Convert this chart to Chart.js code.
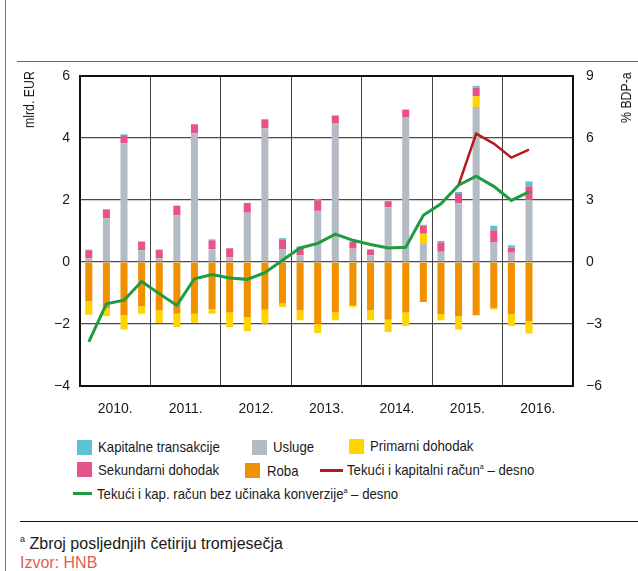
<!DOCTYPE html>
<html>
<head>
<meta charset="utf-8">
<script src="https://cdn.jsdelivr.net/npm/chart.js@4"></script>
<style>
  body { margin: 0; background: #fff; }
  #page { position: relative; width: 638px; height: 571px; overflow: hidden;
          font-family: 'Liberation Sans', Arial, sans-serif; color: #1a1a1a; }
  #wrap { position: absolute; left: 0; top: 0; width: 638px; height: 420px; }
  .rule { position: absolute; background: #333; }
  .ytitle { position: absolute; font-size: 14px; line-height: 14px; white-space: nowrap;
            transform-origin: 0 0; transform: rotate(-90deg) scaleX(0.88); }
  .sw { position: absolute; width: 15px; height: 15px; }
  .ln { position: absolute; height: 3px; }
  .tx { position: absolute; font-size: 15px; line-height: 18px; white-space: nowrap;
        transform-origin: 0 50%; transform: scaleX(0.88); }
  .fn { position: absolute; font-size: 16px; line-height: 18px; white-space: nowrap; }
  sup { font-size: 8px; line-height: 0; vertical-align: baseline; position: relative; top: -6px; }
  .fn sup { font-size: 9px; top: -7px; }
</style>
</head>
<body>
<div id="page">
  <div class="rule" style="left:5px;top:0;width:1px;height:571px;background:#777"></div>
  <div class="rule" style="left:17px;top:61px;width:621px;height:1px;background:#666"></div>
  <div class="rule" style="left:20px;top:521px;width:618px;height:1px;background:#111"></div>

  <div id="wrap"><canvas id="bopChart"></canvas></div>

  <div class="ytitle" style="left:22px;top:128px">mlrd. EUR</div>
  <div class="ytitle" style="left:619px;top:123px">% BDP-a</div>

  <!-- legenda -->
  <div class="sw" style="left:77px;top:440px;background:#5bc3d2"></div>
  <div class="tx" style="left:98px;top:438px">Kapitalne transakcije</div>
  <div class="sw" style="left:252px;top:440px;background:#b4bbc2"></div>
  <div class="tx" style="left:273px;top:438px">Usluge</div>
  <div class="sw" style="left:349px;top:439px;background:#ffd400"></div>
  <div class="tx" style="left:370px;top:437px">Primarni dohodak</div>

  <div class="sw" style="left:77px;top:462px;background:#e8528a"></div>
  <div class="tx" style="left:98px;top:461px">Sekundarni dohodak</div>
  <div class="sw" style="left:245px;top:463px;background:#f29100"></div>
  <div class="tx" style="left:267px;top:462px">Roba</div>
  <div class="ln" style="left:320px;top:469px;width:23px;background:#b5191c"></div>
  <div class="tx" style="left:347px;top:461px">Tekući i kapitalni račun<sup>a</sup> – desno</div>

  <div class="ln" style="left:73px;top:492px;width:19px;background:#1e9c3f"></div>
  <div class="tx" style="left:97px;top:485px">Tekući i kap. račun bez učinaka konverzije<sup>a</sup> – desno</div>

  <div class="fn" style="left:20px;top:535px"><sup>a</sup> Zbroj posljednjih četiriju tromjesečja</div>
  <div class="fn" style="left:20px;top:554px;color:#e0604f">Izvor: HNB</div>
</div>

<script>
// tromjesečja 2010.–2016. (zadnja dva u 2016. prazna)
const years = ['2010.', '2011.', '2012.', '2013.', '2014.', '2015.', '2016.'];
const quarters = [];
years.forEach(y => { for (let q = 1; q <= 4; q++) quarters.push(y + 'Q' + q); });

// mlrd. EUR
const kapitalne = [0.02, 0.02, 0.03, 0.02, 0.01, 0.01, 0.01, 0.03, 0.01, 0.01, 0.01, 0.04,
                   0.02, 0.04, 0.01, 0.01, 0.01, 0.01, 0.01, 0.02, 0.05, 0.04, 0.06, 0.15, 0.08, 0.16];
const usluge = [0.12, 1.41, 3.83, 0.38, 0.12, 1.50, 4.15, 0.41, 0.15, 1.59, 4.31, 0.42,
                0.22, 1.65, 4.48, 0.43, 0.22, 1.77, 4.66, 0.61, 0.33, 1.89, 5.00, 0.63, 0.30, 2.01];
const primarni = [-0.44, -0.25, -0.46, -0.24, -0.41, -0.43, -0.29, -0.14, -0.47, -0.45, -0.45, -0.11,
                  -0.32, -0.30, -0.25, -0.05, -0.32, -0.40, -0.43, 0.30, -0.20, -0.43, 0.35, -0.05, -0.37, -0.40];
const sekundarni = [0.26, 0.28, 0.26, 0.27, 0.27, 0.31, 0.29, 0.29, 0.29, 0.31, 0.29, 0.31,
                    0.26, 0.34, 0.24, 0.22, 0.18, 0.19, 0.25, 0.27, 0.30, 0.33, 0.27, 0.39, 0.16, 0.43];
const roba = [-1.26, -1.50, -1.72, -1.43, -1.56, -1.67, -1.67, -1.53, -1.63, -1.78, -1.54, -1.34,
              -1.56, -1.99, -1.63, -1.40, -1.56, -1.86, -1.63, -1.29, -1.68, -1.75, -1.72, -1.48, -1.69, -1.91];

// % BDP-a (desna os)
const tekuciKapitalni = [null, null, null, null, null, null, null, null, null, null, null, null,
                         null, null, null, null, null, null, null, null, null, 3.72, 6.21, 5.73, 5.05, 5.44];
const bezKonverzije = [-3.87, -2.02, -1.85, -0.94, -1.53, -2.10, -0.81, -0.61, -0.77, -0.84, -0.52, 0.08,
                       0.68, 0.90, 1.35, 1.05, 0.85, 0.68, 0.71, 2.26, 2.82, 3.72, 4.15, 3.66, 2.98, 3.39];

const leftTicks = [-4, -2, 0, 2, 4, 6];
const rightTicks = [-6, -3, 0, 3, 6, 9];

const tickFont = { family: "'Liberation Sans', Arial, sans-serif", size: 14 };
const fmt = v => (v < 0 ? '\u2212' + Math.abs(v) : String(v));

const barDs = (label, data, color) => ({
    type: 'bar', label, data, backgroundColor: color,
    barPercentage: 0.4, categoryPercentage: 1, order: 3, yAxisID: 'y', xAxisID: 'x'
});

new Chart(document.getElementById('bopChart'), {
    type: 'bar',
    data: {
        labels: quarters,
        datasets: [
            barDs('Usluge', usluge, '#b4bbc2'),
            barDs('Roba', roba, '#f29100'),
            barDs('Primarni dohodak', primarni, '#ffd400'),
            barDs('Sekundarni dohodak', sekundarni, '#e8528a'),
            barDs('Kapitalne transakcije', kapitalne, '#5bc3d2'),
            { type: 'line', label: 'Tekući i kapitalni račun – desno', data: tekuciKapitalni,
              borderColor: '#b5191c', borderWidth: 2.5, pointRadius: 0, tension: 0, yAxisID: 'y1', order: 2 },
            { type: 'line', label: 'Tekući i kap. račun bez učinaka konverzije – desno', data: bezKonverzije,
              borderColor: '#1e9c3f', borderWidth: 3, pointRadius: 0, tension: 0, yAxisID: 'y1', order: 1 }
        ]
    },
    options: {
        responsive: true,
        maintainAspectRatio: false,
        animation: false,
        layout: { padding: { top: 76, left: 0, right: 0, bottom: 0 } },
        plugins: { legend: { display: false }, tooltip: { enabled: false } },
        scales: {
            x: { stacked: true, display: false },
            years: {
                type: 'category', labels: years, position: 'bottom', offset: true,
                grid: { offset: true, color: '#444', lineWidth: 1, drawTicks: false },
                border: { color: '#111', width: 2 },
                ticks: { font: tickFont, color: '#1a1a1a', padding: 15 },
                afterFit: s => { s.height = 34; }
            },
            y: {
                stacked: true, position: 'left', min: -4, max: 6,
                afterBuildTicks: s => { s.ticks = leftTicks.map(v => ({ value: v })); },
                grid: { color: c => (c.tick && c.tick.value === 6 ? '#111' : '#4a4a4a'),
                        lineWidth: c => (c.tick && c.tick.value === 6 ? 2 : 1.2), drawTicks: false },
                border: { color: '#111', width: 2 },
                ticks: { font: tickFont, color: '#1a1a1a', padding: 10, callback: fmt },
                afterFit: s => { s.width = 80; }
            },
            y1: {
                position: 'right', min: -6, max: 9,
                afterBuildTicks: s => { s.ticks = rightTicks.map(v => ({ value: v })); },
                grid: { display: false, drawTicks: false },
                border: { color: '#111', width: 2 },
                ticks: { font: tickFont, color: '#1a1a1a', padding: 13, callback: fmt },
                afterFit: s => { s.width = 65; }
            }
        }
    }
});
</script>
</body>
</html>
